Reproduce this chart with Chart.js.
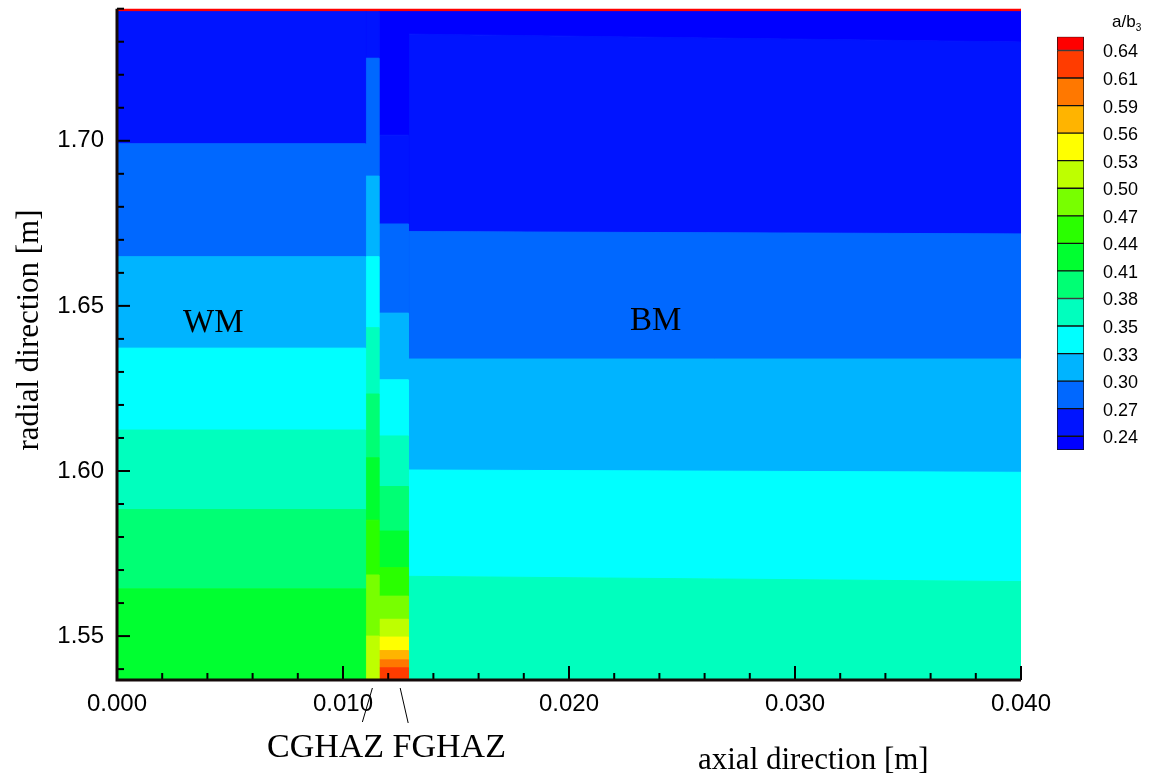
<!DOCTYPE html>
<html>
<head>
<meta charset="utf-8">
<script src="https://cdn.jsdelivr.net/npm/chart.js@4.4.1/dist/chart.umd.min.js"></script>
<style>
  html, body { margin: 0; padding: 0; background: #fff; }
  #wrap { position: relative; width: 1149px; height: 778px; overflow: hidden; }
  #main { position: absolute; left: 0; top: 0; }
  #bar { position: absolute; left: 1057px; top: 30px; }
</style>
</head>
<body>
<div id="wrap">
  <canvas id="main" width="1149" height="778"></canvas>
  <canvas id="bar" width="92" height="430"></canvas>
</div>
<script>
// contour levels (index 0 = below 0.24 ... 15 = above 0.64)
const levelColors = ['#0000ff', '#0014ff', '#0068ff', '#00b4ff', '#00ffff', '#00ffbe', '#00ff74', '#00ff30',
                     '#2aff00', '#78ff00', '#beff00', '#ffff00', '#ffb400', '#ff7800', '#ff3c00', '#ff0000'];
const legendLabels = ['0.24', '0.27', '0.30', '0.33', '0.35', '0.38', '0.41', '0.44',
                      '0.47', '0.50', '0.53', '0.56', '0.59', '0.61', '0.64'];

// weld metal
const wmX = [0.0000, 0.0110];
const wmEdges = [1.5367, 1.5643, 1.5883, 1.6124, 1.6372, 1.6649, 1.6991, 1.7391];
const wmLevels = [7, 6, 5, 4, 3, 2, 1];

// coarse grain HAZ
const cgX = [0.0110, 0.0116];
const cgEdges = [1.5367, 1.5500, 1.5685, 1.5851, 1.6040, 1.6233, 1.6434, 1.6649, 1.6893, 1.7250, 1.7391];
const cgLevels = [10, 9, 8, 7, 6, 5, 4, 3, 2, 1];

// fine grain HAZ
const fgX = [0.0116, 0.0129];
const fgEdges = [1.5367, 1.5404, 1.5428, 1.5456, 1.5497, 1.5551, 1.5621, 1.5707, 1.5818, 1.5953,
                 1.6106, 1.6276, 1.6478, 1.6748, 1.7017, 1.7391];
const fgLevels = [14, 13, 12, 11, 10, 9, 8, 7, 6, 5, 4, 3, 2, 1, 0];

// base metal (edges at left and right end, slightly sloped)
const bmX = [0.0129, 0.0400];
const bmEdgesL = [1.5367, 1.5681, 1.6003, 1.6339, 1.6725, 1.7323, 1.7391];
const bmEdgesR = [1.5367, 1.5665, 1.5996, 1.6339, 1.6718, 1.7299, 1.7391];
const bmLevels = [5, 4, 3, 2, 1, 0];

// thin strip on the outer surface
const topX = [0.0000, 0.0400];
const topEdges = [1.7391, 1.7400];
const topLevels = [15];

// axes
const xMin = 0.000, xMax = 0.040, yMin = 1.5367, yMax = 1.7400;
const xMajor = [0.000, 0.010, 0.020, 0.030, 0.040];
const yMajor = [1.55, 1.60, 1.65, 1.70];
const xMinorStep = 0.002, yMinorStep = 0.01;

const serif = '"Liberation Serif", "DejaVu Serif", serif';
const sans = '"Liberation Sans", Arial, sans-serif';

function bands(xs, edgesL, edgesR, levels) {
  return levels.map((lv, i) => ({
    data: [
      { x: xs[0], y: edgesL[i] }, { x: xs[1], y: edgesR[i] },
      { x: xs[1], y: edgesR[i + 1] }, { x: xs[0], y: edgesL[i + 1] }, { x: xs[0], y: edgesL[i] }
    ],
    showLine: true,
    fill: 'shape',
    backgroundColor: levelColors[lv],
    borderColor: levelColors[lv],
    borderWidth: 1,
    pointRadius: 0,
    tension: 0
  }));
}

const datasets = [].concat(
  bands(wmX, wmEdges, wmEdges, wmLevels),
  bands(cgX, cgEdges, cgEdges, cgLevels),
  bands(fgX, fgEdges, fgEdges, fgLevels),
  bands(bmX, bmEdgesL, bmEdgesR, bmLevels),
  bands(topX, topEdges, topEdges, topLevels)
);

const xTicks = [];
for (let v = xMin; v <= xMax + 1e-9; v += xMinorStep) xTicks.push(+v.toFixed(4));
const yTicks = [];
for (let v = 1.54; v <= yMax + 1e-9; v += yMinorStep) yTicks.push(+v.toFixed(3));
const isMajor = (v, list) => list.some(m => Math.abs(m - v) < 1e-6);

// no extra room for half tick labels at the axis ends
const noPad = s => { s.paddingTop = 0; s.paddingBottom = 0; s.paddingLeft = 0; s.paddingRight = 0; };

// axis lines, inward ticks and texts
const decor = {
  id: 'decor',
  afterDatasetsDraw(chart) {
    const { ctx, chartArea: a, scales: { x, y } } = chart;
    ctx.save();
    ctx.strokeStyle = '#000';
    ctx.lineWidth = 2;
    xTicks.forEach(v => {
      const px = x.getPixelForValue(v);
      const len = isMajor(v, xMajor) ? 14 : 7;
      ctx.beginPath(); ctx.moveTo(px, a.bottom); ctx.lineTo(px, a.bottom - len); ctx.stroke();
    });
    yTicks.forEach(v => {
      const py = y.getPixelForValue(v);
      const len = isMajor(v, yMajor) ? 13 : 7;
      ctx.beginPath(); ctx.moveTo(a.left, py); ctx.lineTo(a.left + len, py); ctx.stroke();
    });
    ctx.lineWidth = 3;
    ctx.strokeStyle = '#140a0a';
    ctx.beginPath();
    ctx.moveTo(a.left, a.top);
    ctx.lineTo(a.left, a.bottom);
    ctx.lineTo(a.right, a.bottom);
    ctx.stroke();

    // leader lines to the HAZ columns
    ctx.lineWidth = 1;
    ctx.strokeStyle = '#000';
    const cgPx = x.getPixelForValue((cgX[0] + cgX[1]) / 2);
    const fgPx = x.getPixelForValue(0.01253);
    ctx.beginPath(); ctx.moveTo(cgPx, a.bottom + 8); ctx.lineTo(cgPx - 10, a.bottom + 42); ctx.stroke();
    ctx.beginPath(); ctx.moveTo(fgPx, a.bottom + 8); ctx.lineTo(fgPx + 8, a.bottom + 43); ctx.stroke();

    ctx.fillStyle = '#000';
    ctx.textBaseline = 'alphabetic';
    ctx.textAlign = 'left';
    ctx.font = '33px ' + serif;
    ctx.fillText('WM', 183, 332);
    ctx.fillText('BM', 630, 330);
    ctx.font = '34px ' + serif;
    ctx.fillText('CGHAZ FGHAZ', 267, 757);
    ctx.font = '31px ' + serif;
    ctx.fillText('axial direction [m]', 698, 769);
    ctx.save();
    ctx.translate(38, 330);
    ctx.rotate(-Math.PI / 2);
    ctx.textAlign = 'center';
    ctx.fillText('radial direction [m]', 0, 0);
    ctx.restore();

    // colour bar title
    ctx.font = '17px ' + sans;
    ctx.fillText('a/b', 1112, 27);
    const w = ctx.measureText('a/b').width;
    ctx.font = '10px ' + sans;
    ctx.fillText('3', 1112 + w, 31);
    ctx.restore();
  }
};

new Chart(document.getElementById('main'), {
  type: 'scatter',
  data: { datasets: datasets },
  options: {
    responsive: false,
    animation: false,
    layout: { padding: { top: 8.7, right: 128, left: 0, bottom: 0 } },
    plugins: { legend: { display: false }, tooltip: { enabled: false } },
    scales: {
      x: {
        type: 'linear', min: xMin, max: xMax,
        afterBuildTicks: s => { s.ticks = xTicks.map(v => ({ value: v })); },
        afterFit: s => { s.height = 98; noPad(s); },
        grid: { display: false, drawTicks: false },
        border: { display: false },
        ticks: {
          autoSkip: false, maxRotation: 0, padding: 10, color: '#000',
          font: { family: sans, size: 24 },
          callback: v => isMajor(v, xMajor) ? v.toFixed(3) : ''
        }
      },
      y: {
        type: 'linear', min: yMin, max: yMax,
        afterBuildTicks: s => { s.ticks = yTicks.map(v => ({ value: v })); },
        afterFit: s => { s.width = 117; noPad(s); },
        grid: { display: false, drawTicks: false },
        border: { display: false },
        ticks: {
          autoSkip: false, padding: 13, color: '#000',
          font: { family: sans, size: 24 },
          callback: v => isMajor(v, yMajor) ? v.toFixed(2) : ''
        }
      }
    }
  },
  plugins: [decor]
});

// colour bar: one floating bar per level, labels on the level boundaries
const barSets = levelColors.map((c, i) => ({
  data: [[i === 0 ? -0.5 : i - 1, i === levelColors.length - 1 ? legendLabels.length - 0.5 : i]],
  backgroundColor: c,
  borderColor: '#111',
  borderWidth: 1,
  borderSkipped: false,
  grouped: false,
  barPercentage: 1,
  categoryPercentage: 1
}));

new Chart(document.getElementById('bar'), {
  type: 'bar',
  data: { labels: ['a/b3'], datasets: barSets },
  options: {
    responsive: false,
    animation: false,
    layout: { padding: { top: 6.7, bottom: 10, left: 0, right: 0 } },
    plugins: { legend: { display: false }, tooltip: { enabled: false } },
    scales: {
      x: { display: false },
      y: {
        position: 'right', min: -0.5, max: legendLabels.length - 0.5,
        afterBuildTicks: s => { s.ticks = legendLabels.map((_, i) => ({ value: i })); },
        afterFit: s => { s.width = 65; noPad(s); },
        grid: { display: false, drawTicks: false },
        border: { display: false },
        ticks: {
          padding: 19, color: '#000', labelOffset: 2,
          font: { family: sans, size: 18 },
          callback: v => legendLabels[v]
        }
      }
    }
  }
});
</script>
</body>
</html>
